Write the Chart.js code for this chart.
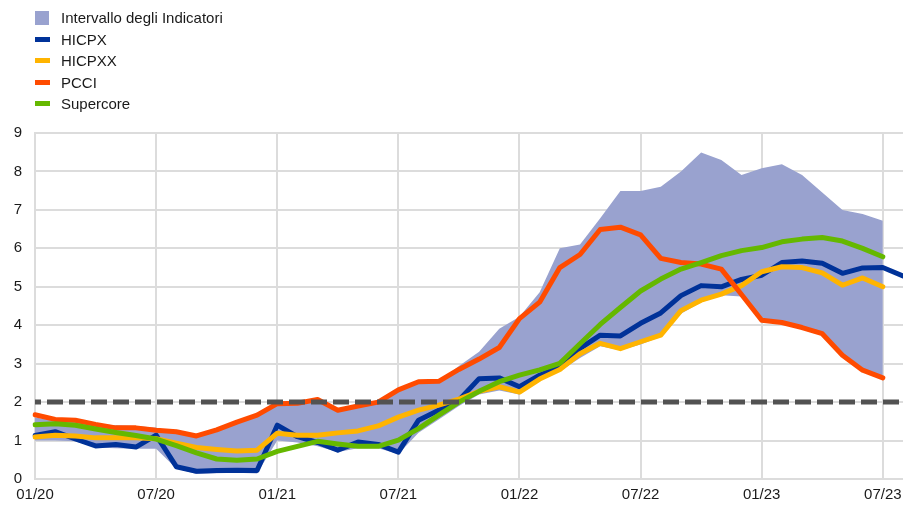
<!DOCTYPE html>
<html>
<head>
<meta charset="utf-8">
<script src="https://cdn.jsdelivr.net/npm/chart.js@4.4.0/dist/chart.umd.min.js"></script>
<style>
  html, body { margin: 0; padding: 0; background: #fff; }
  #wrap { position: relative; width: 903px; height: 506px; }
  #legend { position: absolute; left: 35px; top: 7px; font: 15px 'Liberation Sans', Arial, sans-serif; color: #1a1a1a; }
  .item { height: 21.5px; display: flex; align-items: center; white-space: nowrap; }
  .mark { width: 15px; margin-right: 11px; }
</style>
</head>
<body>
<div id="wrap">
  <canvas id="chart" width="903" height="506"></canvas>
  <div id="legend"></div>
</div>
<script>
const months = [
    '01/20', '02/20', '03/20', '04/20', '05/20', '06/20', '07/20', '08/20', '09/20', '10/20', '11/20', '12/20',
    '01/21', '02/21', '03/21', '04/21', '05/21', '06/21', '07/21', '08/21', '09/21', '10/21', '11/21', '12/21',
    '01/22', '02/22', '03/22', '04/22', '05/22', '06/22', '07/22', '08/22', '09/22', '10/22', '11/22', '12/22',
    '01/23', '02/23', '03/23', '04/23', '05/23', '06/23', '07/23', '08/23'
];

const hicpx = [
    1.13, 1.23, 1.04, 0.86, 0.9, 0.83, 1.14, 0.32, 0.2, 0.22, 0.23, 0.22,
    1.4, 1.1, 0.95, 0.75, 0.96, 0.9, 0.7, 1.53, 1.79, 2.05, 2.61, 2.63,
    2.4, 2.7, 2.92, 3.4, 3.74, 3.72, 4.05, 4.32, 4.77, 5.03, 5.0, 5.19,
    5.3, 5.63, 5.67, 5.61, 5.35, 5.49, 5.5, 5.28
];
const hicpxx = [
    1.09, 1.14, 1.12, 1.07, 1.07, 1.07, 1.05, 0.93, 0.82, 0.77, 0.73, 0.75,
    1.19, 1.14, 1.14, 1.2, 1.25, 1.38, 1.61, 1.79, 1.92, 2.08, 2.28, 2.4,
    2.26, 2.6, 2.85, 3.26, 3.53, 3.39, 3.57, 3.74, 4.38, 4.65, 4.81, 5.03,
    5.39, 5.52, 5.5, 5.36, 5.04, 5.23, 5.0, null
];
const pcci = [
    1.67, 1.55, 1.53, 1.42, 1.33, 1.33, 1.27, 1.23, 1.12, 1.28, 1.48, 1.66,
    1.96, 1.97, 2.07, 1.79, 1.9, 2.0, 2.32, 2.53, 2.54, 2.85, 3.12, 3.42,
    4.17, 4.6, 5.5, 5.84, 6.49, 6.55, 6.35, 5.74, 5.63, 5.59, 5.46, 4.8,
    4.13, 4.07, 3.94, 3.78, 3.22, 2.83, 2.63, null
];
const supercore = [
    1.41, 1.44, 1.4, 1.3, 1.21, 1.13, 1.04, 0.87, 0.68, 0.52, 0.49, 0.52,
    0.72, 0.85, 0.98, 0.91, 0.85, 0.85, 1.01, 1.31, 1.66, 2.0, 2.28, 2.53,
    2.7, 2.84, 3.01, 3.52, 4.02, 4.46, 4.89, 5.2, 5.46, 5.63, 5.81, 5.94,
    6.02, 6.17, 6.24, 6.28, 6.19, 6.0, 5.78, null
];
const rangeHigh = [
    1.6, 1.52, 1.5, 1.43, 1.4, 1.38, 1.33, 1.22, 1.1, 1.26, 1.45, 1.62,
    1.93, 1.95, 2.03, 1.78, 1.88, 1.98, 2.3, 2.5, 2.52, 2.94, 3.31, 3.91,
    4.22, 4.86, 6.0, 6.1, 6.78, 7.49, 7.49, 7.6, 8.0, 8.49, 8.3, 7.91,
    8.08, 8.19, 7.91, 7.45, 7.0, 6.89, 6.72, null
];
const rangeLow = [
    1.0, 1.0, 0.98, 0.82, 0.8, 0.79, 0.79, 0.27, 0.13, 0.15, 0.16, 0.14,
    1.0, 0.95, 0.85, 0.7, 0.8, 0.8, 0.65, 1.2, 1.55, 1.9, 2.2, 2.3,
    2.2, 2.55, 2.8, 3.15, 3.45, 3.35, 3.5, 3.7, 4.3, 4.6, 4.78, 4.75,
    4.1, 4.05, 3.9, 3.75, 3.2, 2.8, 2.6, null
];
const target = 2;

const yTicks = [0, 1, 2, 3, 4, 5, 6, 7, 8, 9];

const legendItems = [
    { label: 'Intervallo degli Indicatori', color: '#99a2cf', box: true },
    { label: 'HICPX', color: '#003299' },
    { label: 'HICPXX', color: '#ffb400' },
    { label: 'PCCI', color: '#ff4b00' },
    { label: 'Supercore', color: '#65b800' }
];

const legend = document.getElementById('legend');
for (let item of legendItems) {
    const row = document.createElement('div');
    row.classList.add('item');
    const mark = document.createElement('span');
    mark.classList.add('mark');
    mark.style.background = item.color;
    mark.style.height = item.box ? '14px' : '5px';
    if (item.box) mark.style.width = '14px', mark.style.marginRight = '12px';
    const text = document.createElement('span');
    text.textContent = item.label;
    row.append(mark, text);
    legend.append(row);
}

const font = { family: "'Liberation Sans', Arial, sans-serif", size: 15 };
const gridGrey = '#dcdcdc';

const lineStyle = (label, data, color, order) => ({
    label: label,
    data: data,
    borderColor: color,
    borderWidth: 5,
    borderJoinStyle: 'round',
    borderCapStyle: 'round',
    pointRadius: 0,
    fill: false,
    order: order
});

var ctx = document.getElementById('chart').getContext('2d');
// eslint-disable-next-line no-undef
new Chart(ctx, {
    type: 'line',
    data: {
        labels: months,
        datasets: [
            {
                label: 'Target',
                data: months.map(() => target),
                borderColor: '#525252',
                borderWidth: 5,
                borderDash: [16, 6],
                borderDashOffset: 10,
                pointRadius: 0,
                fill: false,
                order: 0
            },
            lineStyle('Supercore', supercore, '#65b800', 1),
            lineStyle('PCCI', pcci, '#ff4b00', 2),
            lineStyle('HICPXX', hicpxx, '#ffb400', 3),
            lineStyle('HICPX', hicpx, '#003299', 4),
            {
                label: 'Intervallo degli Indicatori',
                data: rangeHigh,
                borderColor: 'rgba(0,0,0,0)',
                borderWidth: 0,
                backgroundColor: '#99a2cf',
                pointRadius: 0,
                fill: '+1',
                order: 5
            },
            {
                label: 'low',
                data: rangeLow,
                borderColor: 'rgba(0,0,0,0)',
                borderWidth: 0,
                pointRadius: 0,
                fill: false,
                order: 6
            }
        ]
    },
    options: {
        responsive: false,
        animation: false,
        devicePixelRatio: 1,
        layout: { padding: { top: 133, right: 0, bottom: 0, left: 0 } },
        plugins: {
            legend: { display: false },
            tooltip: { enabled: false }
        },
        elements: { line: { tension: 0 } },
        scales: {
            x: {
                offset: false,
                grid: {
                    color: (c) => (c.index % 6 === 0 ? gridGrey : 'rgba(0,0,0,0)'),
                    lineWidth: 2,
                    drawTicks: false
                },
                border: { color: gridGrey, width: 2 },
                ticks: {
                    autoSkip: false,
                    maxRotation: 0,
                    padding: 0,
                    color: '#1a1a1a',
                    // tall line height pushes the labels below the axis without side padding
                    font: { family: font.family, size: 15, lineHeight: 2.1 },
                    callback: (v, i) => (i % 6 === 0 ? months[i] : '')
                },
                afterFit: (s) => { s.height = 27; }
            },
            y: {
                min: yTicks[0],
                max: yTicks[yTicks.length - 1],
                afterBuildTicks: (s) => { s.ticks = yTicks.map((v) => ({ value: v })); },
                grid: { color: gridGrey, lineWidth: 2, drawTicks: false },
                border: { color: gridGrey, width: 2 },
                ticks: { padding: 13, color: '#1a1a1a', font: font },
                afterFit: (s) => { s.width = 35; }
            }
        }
    }
});
</script>
</body>
</html>
